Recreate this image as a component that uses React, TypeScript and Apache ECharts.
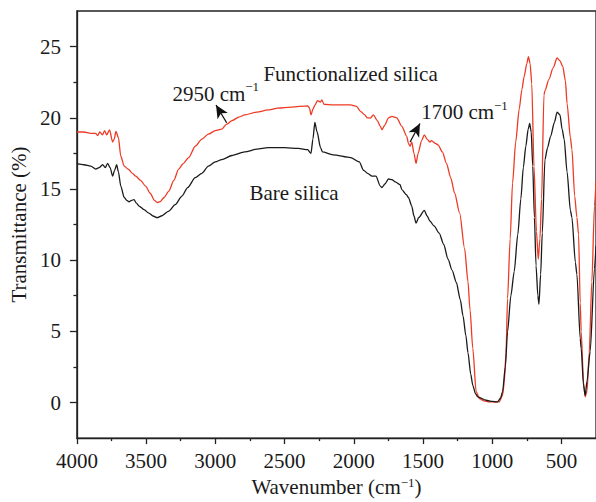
import React, { useEffect, useRef } from "react";
import * as echarts from "echarts";

// Functionalized silica (red) — wavenumber (cm-1) and transmittance (%)
const funcWavenumber = [
  4000, 3950, 3900, 3864, 3850, 3835, 3815, 3800, 3785, 3764, 3742, 3730, 3718, 3700, 3683, 3658, 3630, 3599, 3575,
  3540, 3504, 3470, 3440, 3420, 3400, 3370, 3336, 3300, 3265, 3230, 3193, 3145, 3097, 3050, 3000, 2954, 2918, 2880,
  2830, 2787, 2700, 2620, 2548, 2450, 2333, 2320, 2309, 2295, 2280, 2262, 2240, 2230, 2215, 2150, 2023, 1980, 1951,
  1920, 1903, 1880, 1858, 1830, 1808, 1796, 1775, 1749, 1724, 1689, 1653, 1617, 1605, 1593, 1581, 1565, 1550, 1535,
  1510, 1490, 1470, 1450, 1438, 1410, 1391, 1360, 1330, 1300, 1271, 1235, 1199, 1175, 1160, 1140, 1116, 1092, 1060,
  1021, 980, 949, 925, 913, 900, 889, 870, 853, 830, 805, 785, 769, 750, 738, 726, 714, 698, 680, 667, 655, 643, 626,
  619, 590, 560, 531, 510, 490, 471, 459, 435, 424, 404, 388, 376, 364, 357, 340, 328, 315, 299, 280, 261, 250,
];
const funcTransmittance = [
  19.0, 19.0, 18.9, 18.9, 18.75, 19.0, 18.8, 19.1, 18.8, 19.15, 18.3, 18.5, 19.05, 18.6, 17.3, 16.6, 16.4, 16.1, 15.9,
  15.6, 15.2, 14.7, 14.2, 14.05, 14.1, 14.4, 14.85, 15.6, 16.4, 16.8, 17.2, 18.0, 18.5, 18.85, 19.1, 19.2, 19.55, 19.8,
  20.05, 20.2, 20.4, 20.55, 20.68, 20.75, 20.84, 20.7, 20.2, 20.6, 20.9, 21.2, 21.1, 21.25, 20.95, 20.9, 20.9, 20.8,
  20.45, 20.2, 20.0, 19.98, 20.2, 19.8, 19.4, 19.16, 19.5, 20.0, 20.1, 20.0, 19.4, 18.7, 18.2, 18.0, 18.3, 17.5, 16.8,
  17.5, 18.4, 18.8, 18.5, 18.3, 18.4, 18.2, 18.1, 17.6, 16.8, 15.8, 14.7, 13.3, 10.8, 8.5, 6.5, 3.8, 0.77, 0.28, 0.12,
  0.05, 0.03, 0.05, 0.5, 1.4, 3.5, 7.3, 11.5, 15.4, 18.3, 20.6, 22.0, 22.9, 23.8, 24.3, 23.8, 22.4, 16.6, 12.0, 10.07,
  11.5, 14.3, 21.6, 21.9, 22.7, 23.5, 24.2, 24.0, 23.6, 22.6, 21.0, 18.6, 17.8, 14.5, 13.0, 11.8, 7.0, 5.0, 1.4, 0.4,
  0.8, 3.5, 8.5, 13.8, 15.5,
];

// Bare silica (black)
const bareWavenumber = [
  4000, 3950, 3900, 3864, 3840, 3814, 3795, 3778, 3760, 3742, 3728, 3713, 3700, 3683, 3658, 3640, 3623, 3605, 3587,
  3570, 3551, 3515, 3480, 3450, 3420, 3390, 3336, 3290, 3241, 3200, 3145, 3097, 3050, 3000, 2954, 2880, 2787, 2700,
  2620, 2500, 2400, 2333, 2309, 2295, 2281, 2265, 2240, 2226, 2150, 2023, 1960, 1928, 1900, 1868, 1840, 1808, 1796,
  1775, 1749, 1724, 1700, 1665, 1653, 1620, 1605, 1581, 1565, 1550, 1530, 1490, 1470, 1450, 1420, 1383, 1350, 1319,
  1290, 1259, 1230, 1211, 1190, 1175, 1155, 1140, 1120, 1104, 1044, 1000, 961, 940, 925, 905, 889, 865, 841, 815, 793,
  775, 757, 740, 729, 718, 707, 695, 683, 670, 662, 650, 638, 619, 600, 578, 550, 531, 510, 495, 480, 459, 435, 424,
  399, 388, 364, 357, 340, 328, 315, 292, 261, 250,
];
const bareTransmittance = [
  16.78, 16.7, 16.6, 16.4, 16.5, 16.7, 16.5, 16.8, 16.5, 15.9, 16.3, 16.7, 16.2, 15.2, 14.4, 14.2, 14.1, 14.2, 14.25,
  14.0, 13.8, 13.55, 13.3, 13.1, 12.98, 13.1, 13.45, 13.9, 14.5, 15.1, 15.8, 16.1, 16.6, 16.9, 17.06, 17.35, 17.6, 17.8,
  17.9, 17.9, 17.85, 17.76, 17.5, 18.5, 19.67, 19.0, 17.9, 17.6, 17.4, 17.2, 16.9, 16.3, 16.1, 15.9, 15.9, 15.2, 15.1,
  15.35, 15.7, 15.66, 15.5, 15.3, 14.96, 14.6, 14.4, 13.8, 13.1, 12.6, 13.0, 13.5, 13.1, 12.75, 12.4, 11.9, 11.1, 10.07,
  9.3, 8.44, 7.2, 6.1, 4.7, 3.5, 2.0, 1.2, 0.6, 0.4, 0.16, 0.08, 0.05, 0.3, 0.75, 2.5, 4.96, 7.5, 9.2, 11.8, 14.3, 16.5,
  18.0, 19.2, 19.6, 19.0, 16.6, 13.0, 9.6, 7.5, 6.9, 9.0, 11.9, 17.06, 17.9, 18.7, 19.7, 20.4, 20.2, 19.2, 18.5, 16.2,
  13.5, 13.0, 9.85, 9.0, 4.5, 3.8, 1.2, 0.5, 1.5, 3.6, 9.4, 11.0,
];

const xMajorTicks = [4000, 3500, 3000, 2500, 2000, 1500, 1000, 500];
const xMinorTicks = [3750, 3250, 2750, 2250, 1750, 1250, 750];
const yMajorTicks = [0, 5, 10, 15, 20, 25];
const yMinorTicks = [2.5, 7.5, 12.5, 17.5, 22.5];

// Annotations: main text, superscript, [wavenumber, transmittance]
const labelTexts = ["Functionalized silica", "2950 cm", "1700 cm", "Bare silica"];
const labelSups = ["", "−1", "−1", ""];
const labelCoords = [
  [2023, 23.2],
  [2997, 21.8],
  [1200, 20.5],
  [2431, 14.8],
];
const arrowCoords = [
  [[2918, 19.65], [2995, 20.9]],
  [[1593, 18.3], [1522, 19.6]],
];

const FONT = "'Liberation Serif', 'DejaVu Serif', serif";
const AXIS_COLOR = "#222";
const TEXT_COLOR = "#1a1a1a";
const FS = 21;

const richText = {
  n: { fontSize: FS, fontFamily: FONT, color: TEXT_COLOR, lineHeight: 24, verticalAlign: "bottom" },
  sup: { fontSize: 13, fontFamily: FONT, color: TEXT_COLOR, lineHeight: 14, verticalAlign: "top" },
};

function zip(xs: number[], ys: number[]) {
  return xs.map((x, i) => [x, ys[i]]);
}

export default function App() {
  const ref = useRef<HTMLDivElement>(null);
  useEffect(() => {
    if (!ref.current) return;
    const chart = echarts.init(ref.current, undefined, { renderer: "svg" });
    const baseX = {
      type: "value",
      min: 250,
      max: 4000,
      inverse: true,
      splitLine: { show: false },
      position: "bottom",
    };
    const baseY = {
      type: "value",
      min: -2.5,
      max: 27.5,
      splitLine: { show: false },
      position: "left",
    };
    chart.setOption({
      animation: false,
      backgroundColor: "#fff",
      grid: {
        left: 74,
        top: 11,
        right: -2,
        bottom: 63,
        show: true,
        borderColor: AXIS_COLOR,
        borderWidth: 1.3,
        backgroundColor: "transparent",
      },
      xAxis: [
        {
          ...baseX,
          name: "Wavenumber (cm{sup|−1})",
          nameLocation: "middle",
          nameGap: 37,
          nameTextStyle: { fontSize: FS, fontFamily: FONT, color: TEXT_COLOR, rich: richText },
          axisLine: { show: true, onZero: false, lineStyle: { color: AXIS_COLOR, width: 1.3 } },
          axisTick: { show: true, customValues: xMajorTicks, length: 6, lineStyle: { color: AXIS_COLOR, width: 1.3 } },
          axisLabel: {
            customValues: xMajorTicks,
            margin: 12,
            fontSize: FS,
            fontFamily: FONT,
            color: TEXT_COLOR,
            formatter: (v: number) => String(v),
          },
        },
        {
          ...baseX,
          axisLine: { show: false, onZero: false },
          axisTick: { show: true, customValues: xMinorTicks, length: 3, lineStyle: { color: AXIS_COLOR, width: 1.3 } },
          axisLabel: { show: false },
        },
      ],
      yAxis: [
        {
          ...baseY,
          name: "Transmittance (%)",
          nameLocation: "middle",
          nameGap: 43,
          nameTextStyle: { fontSize: FS, fontFamily: FONT, color: TEXT_COLOR },
          axisLine: { show: true, onZero: false, lineStyle: { color: AXIS_COLOR, width: 1.3 } },
          axisTick: { show: true, customValues: yMajorTicks, length: 7, lineStyle: { color: AXIS_COLOR, width: 1.3 } },
          axisLabel: {
            customValues: yMajorTicks,
            margin: 16,
            fontSize: FS,
            fontFamily: FONT,
            color: TEXT_COLOR,
            formatter: (v: number) => String(v),
          },
        },
        {
          ...baseY,
          axisLine: { show: false, onZero: false },
          axisTick: { show: true, customValues: yMinorTicks, length: 3.5, lineStyle: { color: AXIS_COLOR, width: 1.3 } },
          axisLabel: { show: false },
        },
      ],
      series: [
        {
          name: "Functionalized silica",
          type: "line",
          data: zip(funcWavenumber, funcTransmittance),
          showSymbol: false,
          smooth: 0.25,
          smoothMonotone: "x",
          lineStyle: { color: "#ee3a24", width: 1.3 },
          itemStyle: { color: "#ee3a24" },
          silent: true,
        },
        {
          name: "Bare silica",
          type: "line",
          data: zip(bareWavenumber, bareTransmittance),
          showSymbol: false,
          smooth: 0.25,
          smoothMonotone: "x",
          lineStyle: { color: "#1a1a1a", width: 1.3 },
          itemStyle: { color: "#1a1a1a" },
          silent: true,
          markLine: {
            silent: true,
            symbol: ["none", "arrow"],
            symbolSize: [9, 13],
            label: { show: false },
            lineStyle: { color: "#111", width: 1.3, type: "solid" },
            data: arrowCoords.map(([a, b]) => [{ coord: a }, { coord: b }]),
          },
          markPoint: {
            silent: true,
            symbol: "circle",
            symbolSize: 0,
            data: labelTexts.map((t, i) => ({
              coord: labelCoords[i],
              label: {
                show: true,
                position: "inside",
                formatter: "{n|" + t + "}" + (labelSups[i] ? "{sup|" + labelSups[i] + "}" : ""),
                rich: richText,
              },
            })),
          },
        },
      ],
    });
    return () => chart.dispose();
  }, []);
  return (
    <div
      ref={ref}
      style={{ position: "fixed", left: 0, top: 0, width: 596, height: 502, background: "#fff" }}
    />
  );
}
